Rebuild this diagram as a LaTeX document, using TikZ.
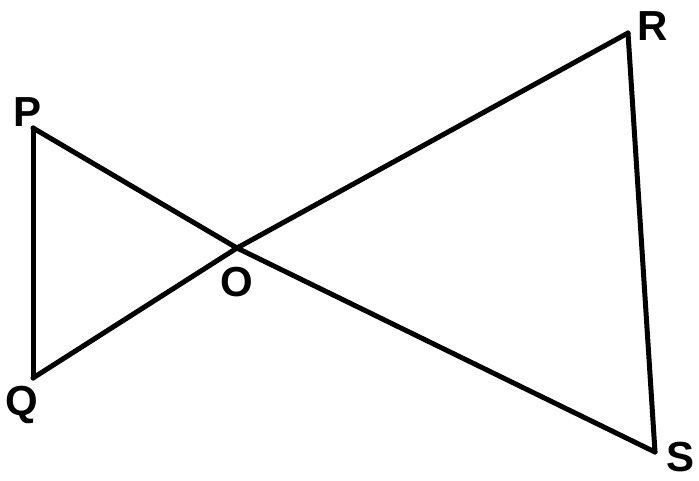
\documentclass[tikz,border=0pt]{standalone}
\usepackage{fontspec}
\setmainfont{Liberation Sans}
\begin{document}
\begin{tikzpicture}[x=1pt,y=-1pt,
  edge/.style={line width=5pt,line join=round,line cap=round},
  lbl/.style={font=\fontsize{42}{42}\selectfont\bfseries,inner sep=0pt}]
\useasboundingbox (0,0) rectangle (699,480);
\coordinate (P) at (33,128);
\coordinate (Q) at (33,378);
\coordinate (R) at (628,33);
\coordinate (S) at (655,452);
\coordinate (O) at (237,248);
\draw[edge] (P) -- (Q);
\draw[edge] (R) -- (S);
\draw[edge] (P) -- (O) -- (S);
\draw[edge] (Q) -- (O) -- (R);
\node[lbl] (lP) at (28,112) {P};
\node[lbl] (lQ) at (22,405) {Q};
\node[lbl] (lR) at (653,26) {R};
\node[lbl] (lS) at (680,457) {S};
\node[lbl] (lO) at (237,282) {O};
\end{tikzpicture}
\end{document}
